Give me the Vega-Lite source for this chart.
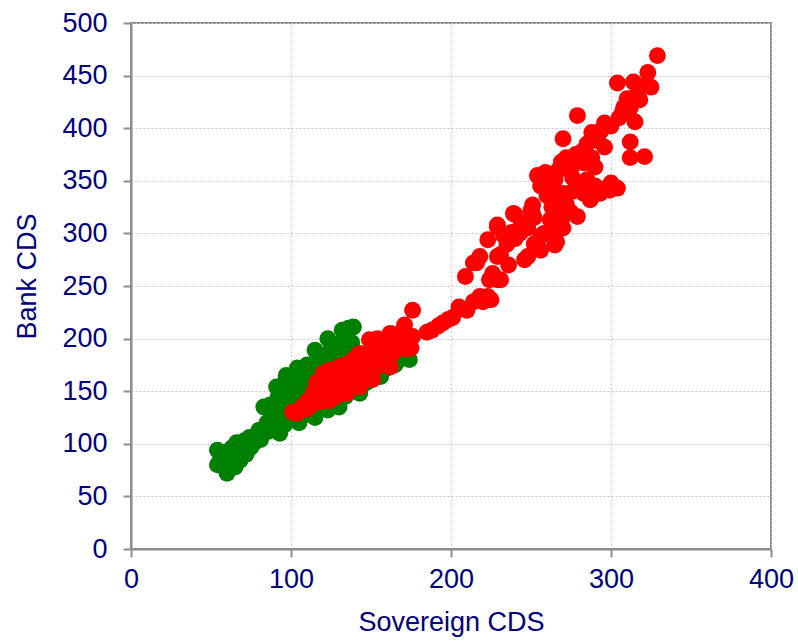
{
  "$schema": "https://vega.github.io/schema/vega-lite/v6.json",
  "width": 640,
  "height": 526,
  "autosize": "none",
  "padding": {"left": 131, "top": 23, "right": 27, "bottom": 92},
  "background": "white",
  "config": {
    "view": {"stroke": "#8c8c8c", "strokeWidth": 2},
    "font": "Liberation Sans"
  },
  "datasets": {
    "green": [
      {"s":54,"b":94},{"s":54,"b":80},{"s":56,"b":88},{"s":58,"b":82},{"s":60,"b":72},{"s":60,"b":92},{"s":62,"b":85},{"s":63,"b":96},{"s":65,"b":78},{"s":66,"b":101},{"s":66,"b":90},{"s":68,"b":84},{"s":70,"b":96},{"s":71,"b":103},{"s":72,"b":90},{"s":74,"b":106},{"s":75,"b":97},{"s":77,"b":101},{"s":78,"b":108},{"s":80,"b":113},{"s":81,"b":104},{"s":83,"b":110},{"s":83,"b":135},{"s":85,"b":120},{"s":86,"b":112},{"s":87,"b":137},{"s":88,"b":124},{"s":90,"b":132},{"s":90,"b":118},{"s":91,"b":154},{"s":92,"b":127},{"s":93,"b":110},{"s":94,"b":140},{"s":95,"b":145},{"s":96,"b":158},{"s":96,"b":118},{"s":97,"b":165},{"s":98,"b":130},{"s":99,"b":150},{"s":100,"b":138},{"s":101,"b":125},{"s":102,"b":145},{"s":103,"b":160},{"s":104,"b":172},{"s":105,"b":120},{"s":106,"b":132},{"s":107,"b":150},{"s":108,"b":140},{"s":109,"b":165},{"s":110,"b":128},{"s":111,"b":155},{"s":112,"b":170},{"s":113,"b":140},{"s":115,"b":189},{"s":115,"b":125},{"s":116,"b":150},{"s":117,"b":165},{"s":118,"b":135},{"s":120,"b":175},{"s":121,"b":145},{"s":122,"b":158},{"s":123,"b":200},{"s":123,"b":132},{"s":125,"b":180},{"s":126,"b":150},{"s":127,"b":142},{"s":128,"b":186},{"s":129,"b":165},{"s":130,"b":135},{"s":131,"b":172},{"s":132,"b":208},{"s":133,"b":155},{"s":134,"b":145},{"s":135,"b":190},{"s":136,"b":210},{"s":137,"b":160},{"s":138,"b":196},{"s":139,"b":211},{"s":140,"b":150},{"s":141,"b":178},{"s":142,"b":165},{"s":143,"b":148},{"s":145,"b":170},{"s":147,"b":158},{"s":149,"b":165},{"s":150,"b":180},{"s":152,"b":170},{"s":154,"b":175},{"s":156,"b":164},{"s":158,"b":178},{"s":160,"b":172},{"s":162,"b":185},{"s":165,"b":175},{"s":168,"b":180},{"s":171,"b":182},{"s":173,"b":192},{"s":174,"b":180},{"s":170,"b":195},
      {"s":100,"b":160},{"s":105,"b":165},{"s":110,"b":175},{"s":118,"b":180},{"s":125,"b":190},{"s":130,"b":195},{"s":108,"b":150},{"s":92,"b":145},{"s":88,"b":128},{"s":97,"b":136}
    ],
    "red": [
      {"s":101,"b":130},{"s":104,"b":129},{"s":107,"b":135},{"s":110,"b":133},{"s":112,"b":140},{"s":114,"b":138},{"s":114,"b":148},{"s":116,"b":158},{"s":117,"b":145},{"s":118,"b":150},{"s":120,"b":154},{"s":120,"b":167},{"s":121,"b":142},{"s":122,"b":160},{"s":124,"b":141},{"s":124,"b":170},{"s":125,"b":150},{"s":126,"b":161},{"s":127,"b":155},{"s":128,"b":145},{"s":129,"b":165},{"s":130,"b":173},{"s":131,"b":158},{"s":132,"b":167},{"s":133,"b":150},{"s":135,"b":148},{"s":136,"b":160},{"s":137,"b":177},{"s":138,"b":168},{"s":140,"b":155},{"s":141,"b":172},{"s":143,"b":154},{"s":143,"b":186},{"s":145,"b":175},{"s":146,"b":165},{"s":148,"b":180},{"s":149,"b":199},{"s":151,"b":161},{"s":152,"b":185},{"s":154,"b":200},{"s":155,"b":180},{"s":157,"b":190},{"s":160,"b":195},{"s":162,"b":173},{"s":162,"b":205},{"s":164,"b":186},{"s":166,"b":195},{"s":168,"b":205},{"s":170,"b":200},{"s":171,"b":213},{"s":172,"b":190},{"s":175,"b":191},{"s":176,"b":202},{"s":176,"b":227},
      {"s":110,"b":140},{"s":115,"b":152},{"s":119,"b":162},{"s":123,"b":165},{"s":128,"b":170},{"s":134,"b":175},{"s":139,"b":180},{"s":144,"b":182},{"s":150,"b":188},{"s":156,"b":192},{"s":158,"b":198},{"s":165,"b":200},{"s":153,"b":172},{"s":147,"b":170},{"s":140,"b":162},{"s":134,"b":155},{"s":125,"b":145},{"s":118,"b":140},
      {"s":185,"b":206},{"s":188,"b":208},{"s":192,"b":212},{"s":195,"b":215},{"s":198,"b":218},{"s":201,"b":220},{"s":205,"b":230},{"s":208,"b":228},{"s":210,"b":227},{"s":214,"b":235},{"s":218,"b":240},{"s":220,"b":235},{"s":223,"b":240},{"s":225,"b":237},{"s":224,"b":256},{"s":229,"b":256},{"s":231,"b":256},{"s":209,"b":259},{"s":214,"b":272},{"s":216,"b":272},{"s":218,"b":278},{"s":223,"b":294},{"s":229,"b":278},{"s":231,"b":280},{"s":229,"b":306},{"s":229,"b":308},{"s":238,"b":301},{"s":240,"b":318},{"s":243,"b":300},{"s":239,"b":319},{"s":246,"b":275},{"s":248,"b":278},{"s":251,"b":319},{"s":251,"b":327},{"s":254,"b":355},{"s":256,"b":297},{"s":256,"b":284},{"s":265,"b":289},{"s":259,"b":358},{"s":260,"b":336},{"s":262,"b":313},{"s":262,"b":335},{"s":264,"b":306},{"s":265,"b":351},{"s":266,"b":292},{"s":268,"b":338},{"s":269,"b":368},{"s":270,"b":316},{"s":270,"b":338},{"s":270,"b":390},{"s":276,"b":353},{"s":279,"b":316},{"s":279,"b":412},{"s":281,"b":344},{"s":283,"b":367},{"s":285,"b":351},{"s":287,"b":332},{"s":288,"b":396},{"s":290,"b":363},{"s":296,"b":382},{"s":296,"b":405},{"s":298,"b":344},{"s":299,"b":341},{"s":304,"b":343},{"s":304,"b":443},{"s":307,"b":415},{"s":312,"b":419},{"s":312,"b":387},{"s":312,"b":372},{"s":314,"b":444},{"s":315,"b":406},{"s":318,"b":427},{"s":321,"b":373},{"s":323,"b":453},{"s":325,"b":439},{"s":329,"b":469},
      {"s":258,"b":348},{"s":262,"b":345},{"s":267,"b":360},{"s":272,"b":372},{"s":275,"b":362},{"s":278,"b":375},{"s":282,"b":378},{"s":285,"b":385},{"s":288,"b":372},{"s":292,"b":388},{"s":294,"b":398},{"s":300,"b":402},{"s":305,"b":410},{"s":308,"b":420},{"s":310,"b":428},{"s":316,"b":432},{"s":320,"b":440},{"s":263,"b":325},{"s":266,"b":330},{"s":272,"b":328},{"s":276,"b":340},{"s":283,"b":338},{"s":290,"b":345},{"s":293,"b":338},{"s":300,"b":348},{"s":244,"b":310},{"s":248,"b":305},{"s":252,"b":315},{"s":235,"b":290},{"s":240,"b":295},{"s":233,"b":298},{"s":226,"b":262},{"s":236,"b":270},{"s":252,"b":290},{"s":258,"b":300},{"s":270,"b":305},{"s":275,"b":320},{"s":268,"b":325},{"s":256,"b":345},{"s":250,"b":322}
    ]
  },
  "layer": [
    {
      "data": {"name": "green"},
      "mark": {"type": "circle", "size": 285, "color": "#008000", "opacity": 1},
      "encoding": {
        "x": {"field": "s", "type": "quantitative", "scale": {"domain": [0, 400], "nice": false}},
        "y": {"field": "b", "type": "quantitative", "scale": {"domain": [0, 500], "nice": false}}
      }
    },
    {
      "data": {"name": "red"},
      "mark": {"type": "circle", "size": 285, "color": "#ff0000", "opacity": 1},
      "encoding": {
        "x": {"field": "s", "type": "quantitative",
          "axis": {"title": "Sovereign CDS", "values": [0,100,200,300,400], "tickColor": "#8c8c8c", "domainColor": "#8c8c8c", "domainWidth": 2, "tickWidth": 2, "tickSize": 8, "labelColor": "#000080", "labelFontSize": 27, "labelFont": "Liberation Sans", "labelPadding": 9, "titleColor": "#000080", "titleFontSize": 27, "titleFont": "Liberation Sans", "titleFontWeight": "normal", "titlePadding": 17, "gridColor": "#c8c8c8", "gridDash": [2,2], "gridWidth": 1, "labelFlush": false}},
        "y": {"field": "b", "type": "quantitative",
          "axis": {"title": "Bank CDS", "values": [0,50,100,150,200,250,300,350,400,450,500], "tickColor": "#8c8c8c", "domainColor": "#8c8c8c", "domainWidth": 2, "tickWidth": 2, "tickSize": 8, "labelColor": "#000080", "labelFontSize": 27, "labelFont": "Liberation Sans", "labelPadding": 16, "titleColor": "#000080", "titleFontSize": 27, "titleFont": "Liberation Sans", "titleFontWeight": "normal", "titlePadding": 20, "titleY": 253, "gridColor": "#c8c8c8", "gridDash": [2,2], "gridWidth": 1, "labelFlush": false}}
      }
    }
  ]
}
